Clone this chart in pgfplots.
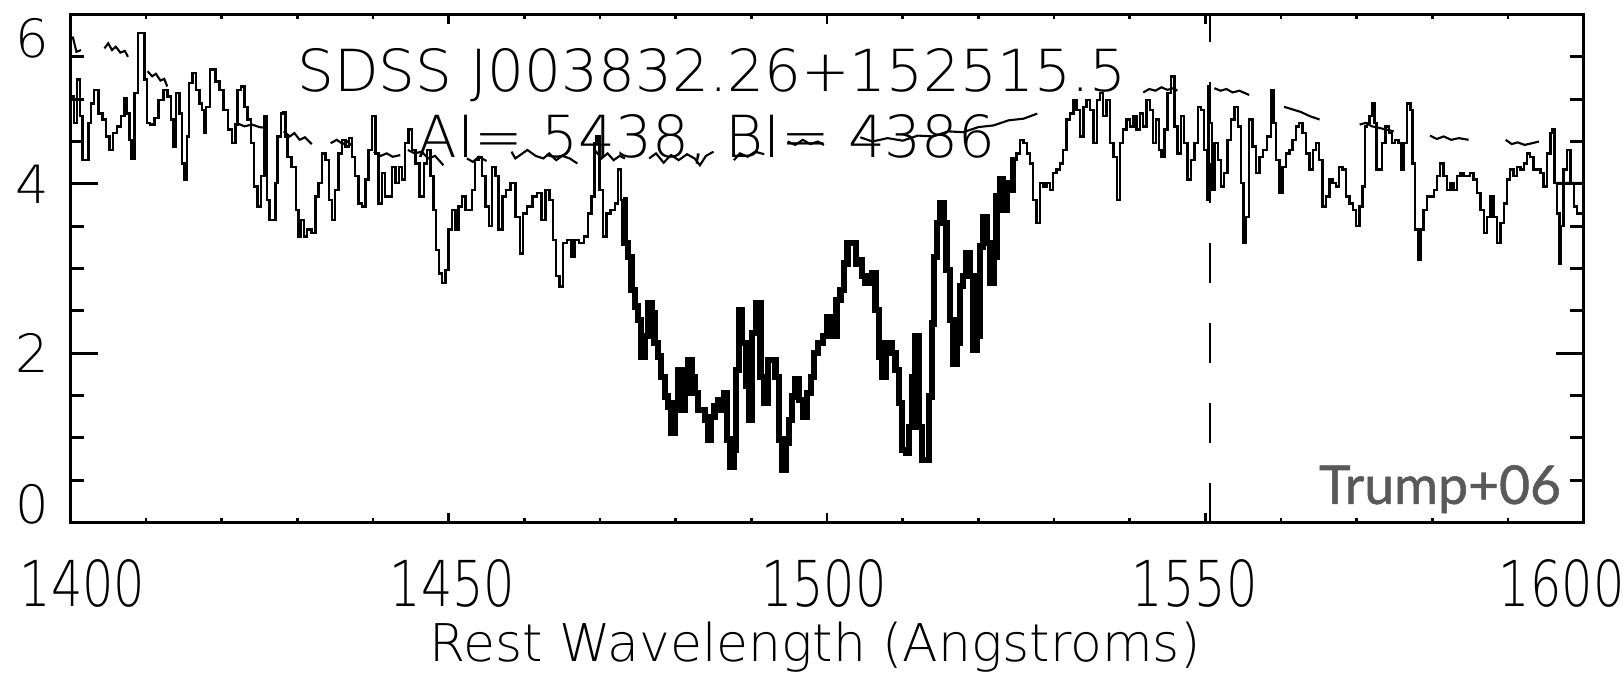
\documentclass[border=0pt]{standalone}
\usepackage{pgfplots}
\usepackage{pgfplotstable}
\usepackage{graphicx}
\usepackage{fontspec}
\pgfplotsset{compat=1.18}
\setmainfont{DejaVu Sans ExtraLight}
\newfontfamily\trumpfont{Lato}[FakeBold=1]
\definecolor{trumpgray}{HTML}{595959}
\newcommand\xl[1]{\scalebox{0.78}[1]{#1}}

\pgfplotstableread{
x y
1400.1 5.03
1400.3 5.03
1400.7 4.72
1401.1 5.23
1401.4 4.80
1401.8 4.28
1402.3 4.28
1402.5 4.72
1402.9 4.95
1403.4 5.11
1404.0 4.83
1404.5 4.76
1404.9 4.56
1405.4 4.40
1405.8 4.60
1406.5 4.68
1406.9 4.80
1407.4 5.01
1407.6 4.83
1408.0 4.52
1408.2 4.30
1408.7 5.07
1409.1 5.78
1409.6 5.78
1410.0 5.23
1410.2 4.72
1410.9 4.70
1411.3 4.78
1412.0 4.99
1412.6 5.11
1413.1 5.03
1413.5 4.76
1413.7 4.44
1414.2 5.07
1414.6 4.83
1414.9 4.24
1415.3 4.05
1415.5 4.56
1415.9 5.19
1416.4 5.31
1416.8 5.11
1417.3 4.95
1417.5 4.87
1417.8 4.60
1418.1 4.91
1418.8 5.35
1419.5 5.21
1419.9 5.11
1420.6 4.87
1421.0 4.64
1421.7 4.48
1421.9 4.70
1422.3 5.11
1422.8 5.15
1423.2 4.91
1423.6 4.76
1424.1 4.48
1424.5 3.97
1425.0 3.73
1425.4 4.09
1425.9 4.80
1426.1 3.81
1426.5 3.57
1427.0 3.57
1427.2 4.01
1427.6 4.56
1428.0 4.83
1428.2 4.85
1428.6 4.56
1428.8 4.32
1429.7 4.20
1429.9 3.69
1430.4 3.38
1430.6 3.57
1431.1 3.38
1431.5 3.46
1432.2 3.42
1432.6 3.85
1433.0 4.01
1433.5 4.36
1433.9 4.28
1434.4 3.81
1434.8 3.57
1435.2 3.93
1435.7 4.36
1436.1 4.52
1436.6 4.44
1437.0 4.54
1437.4 4.32
1437.9 4.09
1438.3 3.77
1438.8 3.73
1439.2 4.05
1439.6 4.40
1440.1 4.80
1440.5 4.36
1441.0 3.77
1441.4 4.13
1441.8 3.85
1442.3 3.85
1442.7 4.20
1443.2 4.01
1443.6 4.20
1444.0 4.05
1444.5 4.48
1444.9 4.64
1445.4 4.40
1445.8 4.24
1446.5 3.85
1446.9 4.24
1447.4 4.40
1447.8 4.09
1448.2 3.69
1448.5 3.22
1448.9 2.94
1449.3 2.83
1449.8 2.98
1450.2 3.46
1450.7 3.69
1451.1 3.46
1451.5 3.73
1452.0 3.85
1452.4 3.69
1452.9 3.69
1453.3 3.93
1453.7 4.28
1454.2 4.32
1454.6 4.09
1455.1 3.73
1455.5 3.50
1456.0 4.20
1456.4 4.09
1456.8 3.46
1457.4 3.85
1457.8 3.93
1458.5 4.01
1459.2 3.61
1459.6 3.18
1460.0 3.65
1460.7 3.73
1461.4 3.85
1462.0 3.89
1462.5 3.57
1463.1 3.93
1463.6 3.81
1464.0 3.34
1464.4 2.91
1464.9 2.79
1465.3 3.30
1466.0 3.34
1466.4 3.14
1466.9 3.34
1467.5 3.30
1468.2 3.38
1468.6 3.65
1469.1 3.85
1469.4 4.48
1469.7 4.56
1470.2 3.93
1470.6 3.38
1471.1 3.65
1471.7 3.69
1472.2 3.77
1472.6 4.17
1473.0 3.81
1473.5 3.30
1473.9 3.14
1474.4 2.75
1474.8 2.55
1475.2 2.39
1475.7 1.96
1476.1 2.20
1476.6 2.59
1477.0 2.47
1477.4 2.12
1477.9 1.96
1478.3 1.72
1478.8 1.49
1479.2 1.37
1479.6 1.06
1480.1 1.41
1480.5 1.80
1481.0 1.33
1481.4 1.53
1481.9 1.92
1482.3 1.72
1482.7 1.53
1483.2 1.33
1483.6 1.33
1484.1 1.21
1484.5 0.98
1484.9 1.25
1485.4 1.37
1485.8 1.45
1486.3 1.33
1486.6 1.53
1487.0 0.98
1487.5 0.66
1487.9 0.86
1488.1 1.80
1488.6 2.51
1489.0 2.12
1489.5 1.61
1489.9 1.21
1490.3 2.24
1491.0 2.59
1491.4 1.72
1491.9 1.41
1492.5 1.92
1493.0 1.92
1493.4 1.72
1493.9 0.98
1494.3 0.62
1494.8 0.94
1495.2 1.21
1495.6 1.49
1496.1 1.69
1496.5 1.45
1497.2 1.25
1497.6 1.53
1498.1 1.72
1498.5 2.00
1499.2 2.12
1499.8 2.20
1500.3 2.43
1500.9 2.20
1501.6 2.63
1502.0 2.75
1502.5 3.06
1502.9 3.30
1503.6 3.30
1504.0 3.06
1504.4 3.10
1504.9 2.91
1505.3 2.83
1505.8 2.91
1506.2 2.94
1506.6 2.51
1507.1 1.96
1507.5 1.72
1508.0 2.12
1508.4 2.12
1508.8 2.00
1509.3 1.80
1509.7 1.41
1510.2 0.86
1510.6 0.82
1511.1 1.13
1511.5 1.72
1511.9 2.20
1512.4 1.13
1512.8 0.74
1513.3 0.74
1513.7 1.49
1514.0 2.35
1514.3 3.14
1514.7 3.54
1515.2 3.77
1515.6 3.54
1516.0 2.98
1516.5 2.39
1516.9 1.88
1517.4 2.12
1517.8 2.79
1518.2 2.91
1518.7 3.18
1519.1 2.91
1519.6 2.04
1520.0 2.20
1520.4 3.26
1520.9 3.61
1521.3 3.30
1521.8 2.83
1522.2 3.14
1522.6 3.85
1523.1 4.05
1523.5 3.69
1524.0 4.01
1524.4 3.93
1524.8 4.28
1525.3 4.36
1525.7 4.52
1526.2 4.48
1526.6 4.36
1527.0 4.24
1527.5 3.81
1527.9 3.54
1528.4 4.01
1528.8 3.97
1529.2 4.01
1529.7 3.93
1530.1 4.13
1530.6 4.17
1531.0 4.24
1531.4 4.40
1531.9 4.76
1532.3 4.83
1532.8 4.99
1533.2 4.87
1533.7 4.56
1534.1 4.91
1534.5 4.99
1535.0 4.87
1535.4 4.48
1535.9 4.99
1536.3 5.07
1536.7 4.80
1537.2 4.99
1537.6 4.48
1538.1 4.32
1538.5 3.81
1538.9 4.48
1539.4 4.64
1539.8 4.76
1540.3 4.68
1540.7 4.80
1541.1 4.64
1541.6 4.83
1542.0 4.68
1542.5 4.99
1542.9 4.87
1543.3 4.48
1543.7 4.76
1544.0 4.40
1544.4 4.32
1544.8 4.64
1545.2 5.07
1545.7 5.27
1546.1 4.68
1546.6 4.36
1547.0 4.80
1547.4 4.48
1547.9 4.05
1548.3 4.28
1548.8 4.48
1549.2 4.91
1549.6 4.87
1550.1 4.40
1550.3 3.81
1550.5 5.15
1550.8 4.72
1551.0 3.93
1551.4 4.48
1551.9 4.28
1552.3 3.97
1552.7 4.13
1553.2 4.52
1553.6 4.76
1554.1 4.91
1554.5 4.68
1554.9 4.01
1555.2 3.30
1555.6 3.61
1556.0 4.76
1556.5 4.44
1556.9 4.13
1557.4 4.32
1557.8 4.40
1558.5 4.56
1558.9 5.11
1559.1 4.72
1559.6 4.28
1560.0 3.89
1560.4 4.20
1560.9 4.36
1561.3 4.40
1561.8 4.52
1562.2 4.68
1562.6 4.72
1563.1 4.60
1563.5 4.36
1564.0 4.17
1564.4 4.40
1564.8 4.48
1565.3 4.28
1565.7 3.73
1566.2 3.85
1566.6 4.05
1567.0 4.01
1567.5 3.97
1567.9 4.20
1568.4 4.17
1568.8 3.85
1569.3 3.77
1569.7 3.69
1570.1 3.50
1570.6 3.73
1571.0 3.97
1571.2 4.68
1571.6 4.72
1571.8 4.80
1572.2 4.95
1572.5 4.72
1572.7 4.17
1573.1 4.17
1573.6 4.48
1574.0 4.68
1574.5 4.60
1574.9 4.48
1575.3 4.52
1575.8 4.48
1576.0 4.17
1576.4 4.48
1576.9 4.95
1577.3 4.87
1577.5 4.24
1578.0 3.46
1578.3 3.10
1578.6 3.46
1579.1 3.69
1579.5 3.85
1580.0 3.85
1580.4 3.93
1580.8 4.09
1581.3 4.24
1581.7 4.09
1582.2 3.93
1582.6 4.01
1583.0 3.93
1583.5 4.09
1583.9 4.13
1584.4 4.09
1584.8 4.09
1585.2 4.13
1585.7 4.05
1586.1 3.89
1586.6 3.69
1587.0 3.42
1587.5 3.61
1587.9 3.85
1588.3 3.61
1588.8 3.30
1589.2 3.54
1589.7 3.77
1590.1 4.05
1590.5 4.17
1591.0 4.09
1591.4 4.20
1591.9 4.17
1592.3 4.24
1592.7 4.36
1593.2 4.32
1593.6 4.17
1594.1 4.17
1594.5 4.13
1594.9 3.97
1595.4 4.36
1595.8 4.60
1596.0 4.64
1596.3 4.01
1596.7 3.65
1596.9 3.06
1597.1 3.50
1597.6 4.17
1598.0 4.40
1598.5 4.01
1598.9 3.73
1599.3 3.65
1599.8 3.65
}\spec

\pgfplotstableread{
x y
1400.3 5.74
1400.8 5.56
1401.4 5.58
nan nan
1404.5 5.60
1405.0 5.66
1405.5 5.58
1406.0 5.62
1406.6 5.55
1407.2 5.57
1407.6 5.50
nan nan
1410.2 5.33
1410.8 5.27
1411.3 5.30
1411.9 5.22
1412.4 5.24
1412.8 5.15
nan nan
1421.9 4.72
1423.0 4.68
1424.0 4.70
1425.0 4.67
1425.9 4.66
nan nan
1428.2 4.62
1429.0 4.56
1429.6 4.60
1430.3 4.52
1431.0 4.55
1431.9 4.47
nan nan
1434.4 4.48
1435.2 4.52
1436.0 4.47
1436.6 4.50
1437.2 4.45
nan nan
1440.1 4.38
1441.0 4.33
1441.8 4.36
1442.6 4.32
1443.6 4.34
nan nan
1444.6 4.40
1445.5 4.36
1446.4 4.38
1447.3 4.30
1448.2 4.33
1449.3 4.22
nan nan
1452.4 4.30
1453.2 4.26
1454.0 4.32
1455.0 4.27
nan nan
1458.3 4.38
1458.8 4.30
1459.6 4.35
1460.4 4.40
1461.5 4.33
1462.5 4.30
1463.3 4.36
1464.2 4.28
1465.0 4.33
1466.0 4.30
1467.0 4.24
nan nan
1469.3 4.40
1470.2 4.30
1471.0 4.36
1471.8 4.28
1472.6 4.33
1473.3 4.30
nan nan
1476.5 4.30
1477.4 4.36
1478.4 4.25
1479.4 4.34
1480.4 4.28
1481.5 4.35
1482.5 4.30
1483.2 4.22
1484.0 4.33
1485.0 4.38
nan nan
1487.7 4.28
1488.5 4.36
1489.5 4.32
1490.5 4.38
1491.7 4.35
nan nan
1494.8 4.50
1495.8 4.46
1496.8 4.52
1497.8 4.47
1498.8 4.50
1499.6 4.46
nan nan
1504.4 4.55
1506.0 4.50
1508.0 4.54
1510.0 4.51
1512.0 4.57
1514.0 4.56
1516.0 4.62
1518.0 4.61
1520.0 4.67
1522.0 4.69
1524.0 4.75
1526.0 4.77
1527.8 4.83
nan nan
1541.8 5.08
1542.6 5.12
1543.4 5.10
1544.2 5.14
1545.0 5.11
1545.8 5.13
1546.3 5.10
nan nan
1551.2 5.13
1552.0 5.10
1552.8 5.12
1553.6 5.08
1554.5 5.10
1555.8 5.05
nan nan
1560.4 4.91
1561.5 4.88
1562.6 4.85
1563.8 4.80
1565.1 4.76
nan nan
1570.4 4.70
1571.2 4.72
1572.0 4.68
1573.0 4.66
1574.0 4.64
1574.9 4.62
nan nan
1579.7 4.57
1580.6 4.53
1581.5 4.56
1582.5 4.52
1583.5 4.54
1584.8 4.52
nan nan
1589.7 4.52
1590.5 4.47
1591.3 4.49
1592.2 4.46
1593.2 4.48
1594.1 4.50
nan nan
1596.2 4.01
1600.0 4.01
}\cont

\begin{document}
\begin{tikzpicture}
\begin{axis}[
  at={(0,0)}, anchor=south west,
  width=151.3mm, height=50.8mm, scale only axis,
  xmin=1400, xmax=1600, ymin=0, ymax=6,
  xtick={1400,1450,1500,1550,1600},
  xticklabels={,,,,},
  extra x ticks={1401.6,1450.5,1499.6,1548.6,1597.1},
  extra x tick labels={\xl{1400},\xl{1450},\xl{1500},\xl{1550},\xl{1600}},
  extra x tick style={/pgfplots/major tick length=0pt, tick style={draw=none}},
  minor x tick num=4,
  ytick={0,2,4,6},
  yticklabels={,2,4,},
  minor y tick num=3,
  tick align=inside,
  axis line style={line width=0.9pt},
  every tick/.style={black, line width=0.8pt},
  xtick style={/pgfplots/major tick length=0.95mm, /pgfplots/minor tick length=0.45mm},
  ytick style={/pgfplots/major tick length=2.8mm, /pgfplots/minor tick length=1.4mm},
  xticklabel style={font=\fontsize{18}{18}\selectfont, anchor=north, inner sep=0pt, yshift=-3.6mm},
  yticklabel style={font=\fontsize{15}{15}\selectfont, anchor=east, inner sep=0pt, xshift=-2.07mm},
  xlabel={Rest Wavelength (Angstroms)},
  xlabel style={font=\fontsize{14.8}{15}\selectfont, at={(axis description cs:0.492,0)}, anchor=base, inner sep=0pt, yshift=-13.93mm},
  clip=true,
]
\addplot[black, line width=0.7pt, const plot mark mid] table {\spec};
\addplot[black, line width=1.8pt, const plot mark mid, restrict x to domain=1472.9:1525.1] table {\spec};
\addplot[black, line width=0.6pt, unbounded coords=jump] table {\cont};
\addplot[black, line width=0.75pt, dash pattern=on 4mm off 4mm] coordinates {(1550.6,0) (1550.6,6)};
\node[anchor=base, font=\fontsize{16.5}{17}\selectfont, inner sep=0pt] at (axis cs:1484.8,5.095) {SDSS J003832.26+152515.5};
\node[anchor=base, font=\fontsize{16.5}{17}\selectfont, inner sep=0pt] at (axis cs:1484.1,4.31) {AI=~5438,~BI=~4386};
\node[anchor=base east, font=\trumpfont\fontsize{15.2}{16}\selectfont, text=trumpgray, inner sep=0pt] at (axis cs:1597.1,0.22) {Trump+06};
\end{axis}
\node[anchor=east, font=\fontsize{15}{15}\selectfont, inner sep=0pt] at ([xshift=-2.07mm]0mm,{50.8mm*5.72/6}) {6};
\node[anchor=east, font=\fontsize{15}{15}\selectfont, inner sep=0pt] at ([xshift=-2.07mm]0mm,{50.8mm*0.21/6}) {0};
\pgfresetboundingbox
\path[use as bounding box] (-7.04mm,-15.83mm) rectangle (155.24mm,52.25mm);
\end{tikzpicture}
\end{document}
